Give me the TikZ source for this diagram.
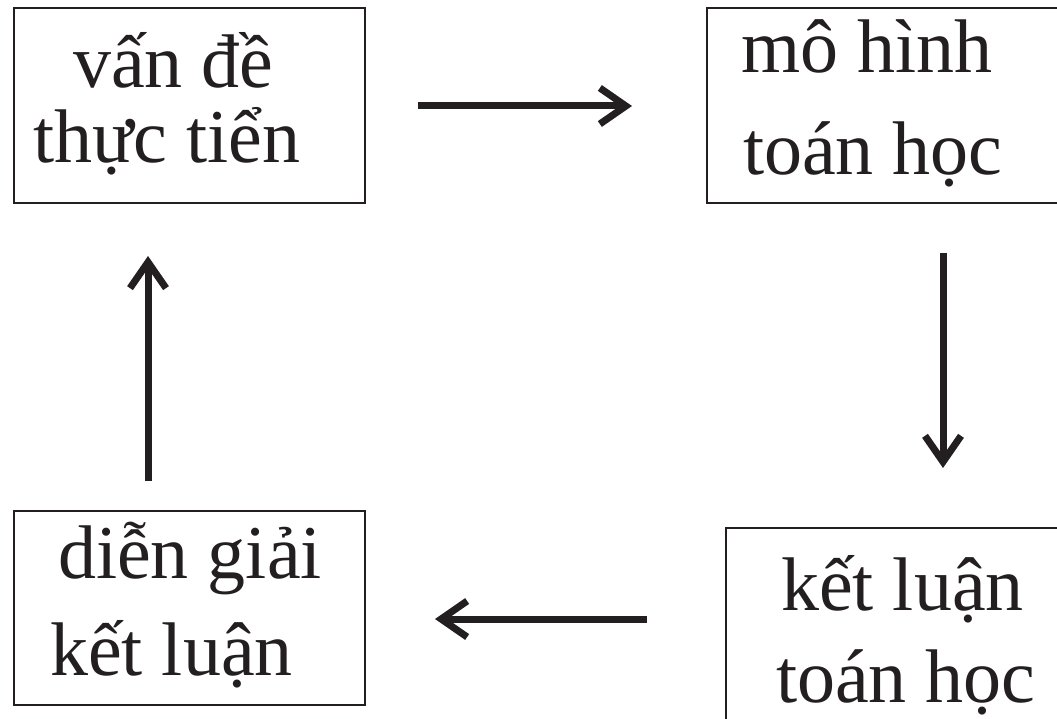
\documentclass[tikz,border=0pt]{standalone}
\usepackage{fontspec}
\setmainfont{Liberation Serif}
\usetikzlibrary{arrows.meta}
\definecolor{ink}{HTML}{231F20}
\begin{document}
\begin{tikzpicture}[x=1pt,y=-1pt,
  box/.style={draw=ink,line width=1.5pt,inner sep=0pt,outer sep=0pt},
  openbox/.style={inner sep=0pt,outer sep=0pt},
  edge/.style={draw=ink,line width=1.5pt},
  lbl/.style={anchor=base west,inner sep=0pt,outer sep=0pt,text=ink,font=\fontsize{76}{76}\selectfont},
  flow/.style={draw=ink,line width=7pt,-{Straight Barb[length=26pt,width=36pt,line width=7pt]}}]
\useasboundingbox (0,0) rectangle (1057,719);
\clip (0,0) rectangle (1057,719);
\fill[white] (0,0) rectangle (1057,719);
% boxes
\node[box,minimum width=351pt,minimum height=195pt] (tl) at (189.5,105.5) {};
\node[openbox,minimum width=380pt,minimum height=195pt] (tr) at (897,105.5) {};
\node[openbox,minimum width=370pt,minimum height=220pt] (br) at (911,638) {};
\node[box,minimum width=351pt,minimum height=194pt] (bl) at (189.5,608) {};
\draw[edge] (tr.north east) -- (tr.north west) -- (tr.south west) -- (tr.south east);
\draw[edge] (br.north east) -- (br.north west) -- (br.south west);
% texts
\node[lbl] (t1a) at (73,88) {vấn đề};
\node[lbl] (t1b) at (33,163) {thực tiển};
\node[lbl] (t2a) at (741,73) {mô hình};
\node[lbl] (t2b) at (743,175) {toán học};
\node[lbl] (t3a) at (781,610) {kết luận};
\node[lbl] (t3b) at (776,702) {toán học};
\node[lbl] (t4a) at (58,578) {diễn giải};
\node[lbl] (t4b) at (50,675) {kết luận};
% arrow end points
\coordinate (a1s) at (418,106);
\coordinate (a1e) at (632,106);
\coordinate (a2s) at (943,253);
\coordinate (a2e) at (943,468);
\coordinate (a3s) at (647,619);
\coordinate (a3e) at (435,619);
\coordinate (a4s) at (148,481);
\coordinate (a4e) at (148,256);
\draw[flow] (a1s) -- (a1e);
\draw[flow] (a2s) -- (a2e);
\draw[flow] (a3s) -- (a3e);
\draw[flow] (a4s) -- (a4e);
\end{tikzpicture}
\end{document}
